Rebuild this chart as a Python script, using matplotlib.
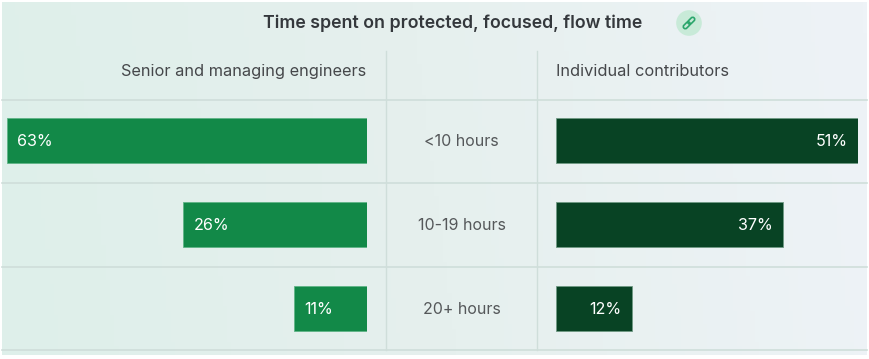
import numpy as np
import matplotlib
matplotlib.use("Agg")
import matplotlib.pyplot as plt
from matplotlib.colors import LinearSegmentedColormap
from matplotlib.patches import Circle, FancyBboxPatch
from matplotlib.transforms import Affine2D

W, H = 869, 359

titulo = "Time spent on protected, focused, flow time"
grupo_esq = "Senior and managing engineers"
grupo_dir = "Individual contributors"
faixas = ["<10 hours", "10-19 hours", "20+ hours"]
rotulos_esq = ["63%", "26%", "11%"]
rotulos_dir = ["51%", "37%", "12%"]
# bar lengths as drawn in the picture, they are not quite proportional to the labels
comp_esq = [63, 32.2, 12.8]
comp_dir = [51, 38.3, 12.8]

cor_esq = "#128948"
cor_dir = "#084324"
cor_linha = "#cfdeda"
cor_texto = "#45474a"

plt.rcParams["font.family"] = ["Inter", "DejaVu Sans"]


def eixo_px(fig, x0, y0, x1, y1):
    return fig.add_axes([x0 / W, 1 - y1 / H, (x1 - x0) / W, (y1 - y0) / H])


fig = plt.figure(figsize=(W / 100, H / 100), dpi=100, facecolor="white")

# background panel, everything decorative lives here in pixel coordinates
fundo = eixo_px(fig, 0, 0, W, H)
fundo.axis("off")
cmap = LinearSegmentedColormap.from_list("fundo", ["#deefea", "#e6f0ee", "#eef3f7"])
gx, gy = np.meshgrid(np.linspace(0, 1, 200), np.linspace(0, 1, 80))
fundo.imshow(0.95 * gx + 0.05 * (1 - gy), cmap=cmap, extent=(2, W - 2, 355, 2),
             aspect="auto", vmin=0, vmax=1)
fundo.set_xlim(0, W)
fundo.set_ylim(H, 0)

for y in [100, 183, 266.5, 350]:
    fundo.plot([2, W - 2], [y, y], color=cor_linha, lw=1.2)
for x in [386, 537]:
    fundo.plot([x, x], [51, 350], color=cor_linha, lw=1)

fundo.text(453, 23.5, titulo, ha="center", va="center", fontsize=12.75,
           fontweight="semibold", color="#34383c")
fundo.text(366, 71.5, grupo_esq, ha="right", va="center", fontsize=11.75, color=cor_texto)
fundo.text(556, 71.5, grupo_dir, ha="left", va="center", fontsize=11.8, color=cor_texto)

# link icon
fundo.add_patch(Circle((689, 23), 12.8, color="#c8ead8", lw=0))
giro = Affine2D().rotate_deg_around(689, 23, -45) + fundo.transData
for dx in [-3.2, 3.2]:
    fundo.add_patch(FancyBboxPatch((689 + dx - 4, 21), 8, 4, boxstyle="round,pad=0,rounding_size=2",
                                   fc="none", ec="#2aa56b", lw=1.2, transform=giro))

# bars
ax_esq = eixo_px(fig, 7, 98.5, 367, 350.5)
ax_dir = eixo_px(fig, 556, 98.5, 858, 350.5)
y_pos = np.arange(len(faixas))

ax_esq.barh(y_pos, comp_esq, height=0.536, color=cor_esq, edgecolor="#5fb587", linewidth=0.6)
ax_esq.set_xlim(63, 0)
ax_dir.barh(y_pos, comp_dir, height=0.536, color=cor_dir, edgecolor="#6f9a84", linewidth=0.6)
ax_dir.set_xlim(0, 51)

for ax in [ax_esq, ax_dir]:
    ax.set_ylim(2.5, -0.5)
    ax.axis("off")

for i in y_pos:
    ax_esq.annotate(rotulos_esq[i], (comp_esq[i], i), xytext=(7.5, -0.8), textcoords="offset points",
                    ha="left", va="center", color="white", fontsize=11.6)
    ax_dir.annotate(rotulos_dir[i], (comp_dir[i], i), xytext=(-7.5, -0.8), textcoords="offset points",
                    ha="right", va="center", color="white", fontsize=11.6)
    fundo.text(461.5, 141.5 + 84 * i, faixas[i], ha="center", va="center", fontsize=11.5, color="#55585a")

fig.savefig("out.png", dpi=100)
